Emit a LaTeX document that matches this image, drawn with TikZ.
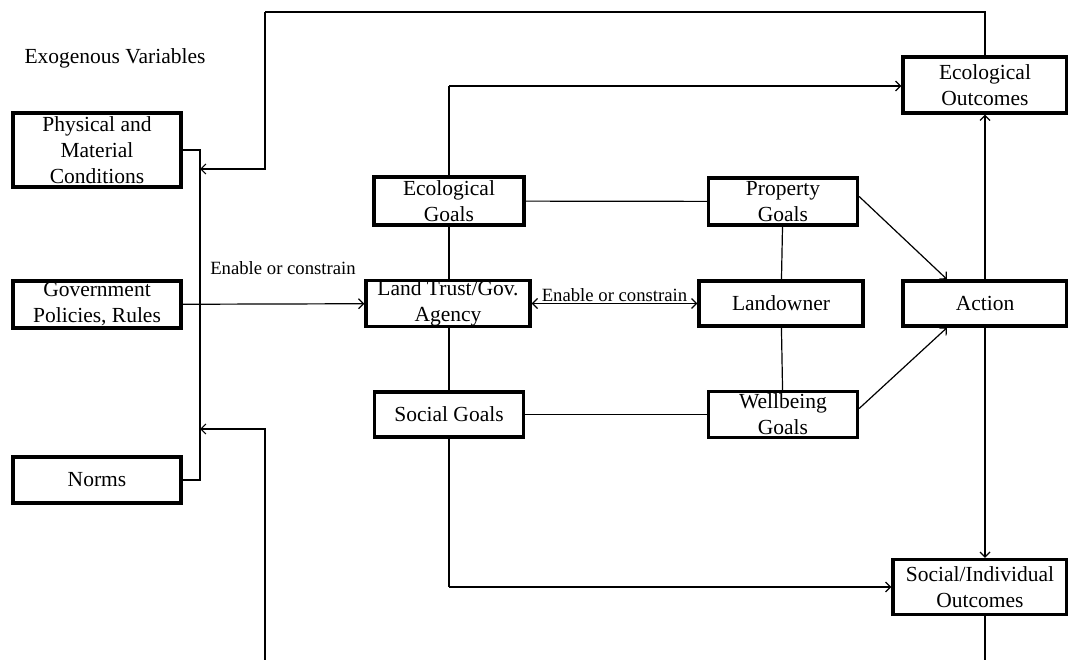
\documentclass[tikz,border=0pt]{standalone}
\usepackage{fontspec}
\setmainfont{Liberation Serif}
\usetikzlibrary{arrows.meta}
\begin{document}
\begin{tikzpicture}[x=1pt,y=-1pt,
 box/.style={draw,line width=3.3pt,fill=white,inner sep=0pt,align=center,
  font=\fontsize{21.5}{26}\selectfont},
 lbl/.style={font=\fontsize{18.7}{22}\selectfont,inner sep=1pt},
 line width=1.2pt,>={Straight Barb[length=5pt,width=10pt]}]
 \useasboundingbox (0,0) rectangle (1068,660);
 \clip (0,0) rectangle (1068,660);
 \node[font=\fontsize{21.5}{26}\selectfont] (exo) at (115,58) {Exogenous Variables};
 \node[box,minimum width=168,minimum height=74] (phys) at (97,150) {Physical and\\Material\\Conditions};
 \node[box,minimum width=168,minimum height=47] (gov) at (97,304.5) {Government\\Policies, Rules};
 \node[box,minimum width=168,minimum height=46] (norms) at (97,480) {Norms};
 \coordinate (busS) at (200,480);
 \coordinate (fbA) at (265,12);
 \coordinate (fbB) at (200,169);
 \coordinate (fbC) at (265,700);
 \coordinate (fbD) at (200,429);
 \draw (phys.east) -| (busS) -- (norms.east);
 \draw[->] (fbA) |- (fbB);
 \draw[->] (fbC) |- (fbD);
 \node[box,minimum width=164,minimum height=56] (ecout) at (985,85) {Ecological\\Outcomes};
 \node[box,minimum width=164,minimum height=45] (act) at (985,303.5) {Action};
 \node[box,minimum width=174,minimum height=55] (socout) at (980,587) {Social/Individual\\Outcomes};
 \draw (ecout.north) |- (fbA);
 \draw (socout.south -| act) |- (fbC);
 \draw[->] (act) -- (ecout);
 \draw[->] (act) -- (socout.north -| act);
 \coordinate (ecbus) at (449,86);
 \coordinate (socbus) at (449,587);
 \draw[->] (ecbus) -- (ecout.west |- ecbus);
 \draw[->] (socbus) -- (socout.west |- socbus);
 \draw (ecbus) -- (socbus);
 \node[box,minimum width=150,minimum height=48] (ecog) at (449,201) {Ecological\\Goals};
 \node[box,minimum width=164,minimum height=45] (ltrust) at (448,303.5) {Land Trust/Gov.\\Agency};
 \node[box,minimum width=149,minimum height=45] (soc) at (449,414.5) {Social Goals};
 \node[box,minimum width=149,minimum height=47] (prop) at (783,201.5) {Property\\Goals};
 \node[box,minimum width=164,minimum height=45] (lown) at (781,303.5) {Landowner};
 \node[box,minimum width=149,minimum height=46] (well) at (783,414.5) {Wellbeing\\Goals};
 \draw (ecog) -- (prop);
 \draw (soc) -- (well);
 \draw (prop) -- (lown);
 \draw (lown) -- (well);
 \draw[->] ([yshift=5pt]prop.east) -- ([xshift=-38pt]act.north);
 \draw[->] ([yshift=6pt]well.east) -- ([xshift=-38pt]act.south);
 \draw[<->] (ltrust) -- (lown) node[lbl,midway,above] {Enable or constrain};
 \draw[->] (gov) -- (ltrust);
 \node[lbl] (enab) at (283,268) {Enable or constrain};
\end{tikzpicture}
\end{document}
